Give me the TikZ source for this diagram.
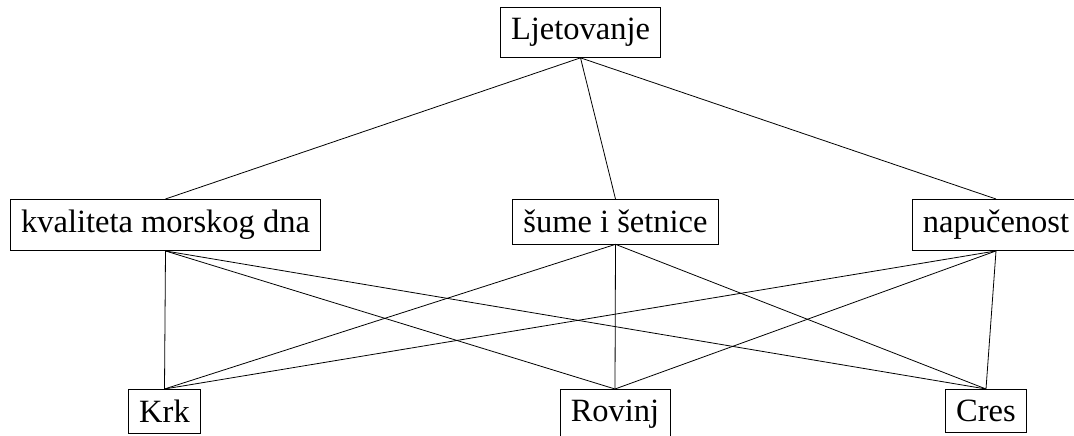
\documentclass[tikz,border=0pt]{standalone}
\usepackage{fontspec}
\setmainfont{Liberation Serif}
\begin{document}
\begin{tikzpicture}[x=1pt,y=1pt,
  box/.style={draw, line width=0.8pt, anchor=north, inner sep=10.8pt, font=\fontsize{32.5}{39}\selectfont},
  edge/.style={line width=0.8pt}]
\useasboundingbox (0,0) rectangle (1074,-436);
\node[box] (root) at (580.5,-7) {Ljetovanje};
\node[box] (kv) at (165.5,-199) {kvaliteta morskog dna};
\node[box] (su) at (615.5,-199) {šume i šetnice};
\node[box] (na) at (996,-199) {napučenost};
\node[box] (krk) at (164.5,-389) {Krk};
\node[box] (rov) at (615,-389) {Rovinj};
\node[box] (cres) at (986,-389) {Cres};
\foreach \c in {kv,su,na} \draw[edge] (root.south) -- (\c.north);
\foreach \p in {kv,su,na} \foreach \c in {krk,rov,cres} \draw[edge] (\p.south) -- (\c.north);
\end{tikzpicture}
\end{document}
